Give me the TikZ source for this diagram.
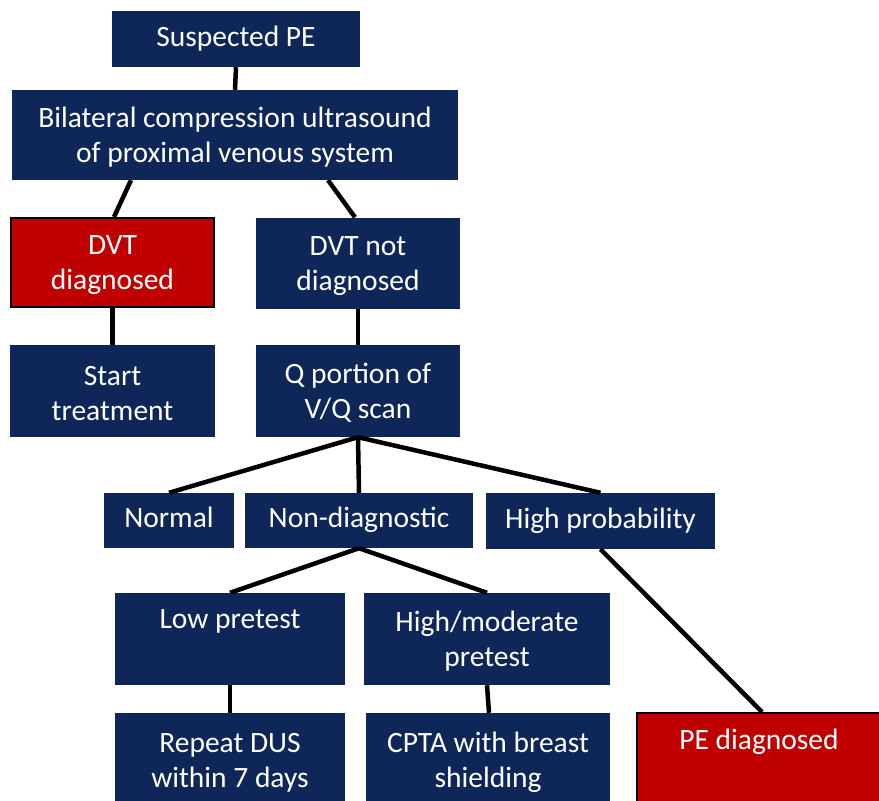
\documentclass[tikz,border=0pt]{standalone}
\usepackage{fontspec}
\setmainfont{Carlito}
\usetikzlibrary{calc}
\definecolor{navy}{HTML}{0E2658}
\definecolor{dred}{HTML}{C00000}
\tikzset{
  box/.style={rectangle, fill=navy, draw=none, text=white, align=center, inner sep=0pt,
    font=\fontsize{29.5}{35}\selectfont},
  redbox/.style={box, fill=dred, draw=black, line width=2pt},
  link/.style={draw=black, line width=4.5pt},
}
\begin{document}
\begin{tikzpicture}[x=1pt,y=-1pt]
\useasboundingbox (0,0) rectangle (879,801);
\clip (0,0) rectangle (879,801);
\node[box, minimum width=248, minimum height=56] (sp) at (236,39) {\strut Suspected PE};
\node[box, minimum width=446, minimum height=90] (bil) at (235,135) {\strut Bilateral compression ultrasound\\of proximal venous system};
\node[redbox, minimum width=203, minimum height=89] (dvt) at (112.5,262.5) {\strut DVT\\diagnosed};
\node[box, minimum width=204, minimum height=91] (dvtn) at (358,263) {\strut DVT not\\diagnosed};
\node[box, minimum width=205, minimum height=92] (st) at (112.5,391) {\strut Start\\treatment};
\node[box, minimum width=204, minimum height=92] (q) at (358,391) {\strut Q portion of\\V/Q scan};
\node[box, minimum width=130, minimum height=55] (nor) at (169,520.5) {\strut Normal};
\node[box, minimum width=228, minimum height=55] (nd) at (359,520.5) {\strut Non-diagnostic};
\node[box, minimum width=229, minimum height=56] (hp) at (600.5,521) {\strut High probability};
\node[box, minimum width=230, minimum height=92] (lp) at (230,639) {\strut Low pretest\\\strut};
\node[box, minimum width=246, minimum height=92] (hm) at (487,639) {\strut High/moderate\\pretest};
\node[box, minimum width=230, minimum height=94] (rd) at (230,760) {\strut Repeat DUS\\within 7 days};
\node[box, minimum width=244, minimum height=94] (cp) at (488,760) {\strut CPTA with breast\\shielding};
\node[redbox, minimum width=244, minimum height=94] (pe) at (759,760) {\strut PE diagnosed\\\strut};
\draw[link] (sp.south) -- (bil.north);
\draw[link] ([xshift=-104pt]bil.south) -- ([xshift=1.5pt]dvt.north);
\draw[link] ([xshift=93pt]bil.south) -- ([xshift=-3pt]dvtn.north);
\draw[link] (dvt.south) -- (st.north);
\draw[link] (dvtn.south) -- (q.north);
\draw[link] (q.south) -- (nor.north);
\draw[link] (q.south) -- (nd.north);
\draw[link] (q.south) -- (hp.north);
\draw[link] (nd.south) -- (lp.north);
\draw[link] (nd.south) -- (hm.north);
\draw[link] (lp.south) -- (rd.north);
\draw[link] (hm.south) -- ([xshift=1pt]cp.north);
\draw[link] (hp.south) -- ([xshift=3pt]pe.north);
\end{tikzpicture}
\end{document}
